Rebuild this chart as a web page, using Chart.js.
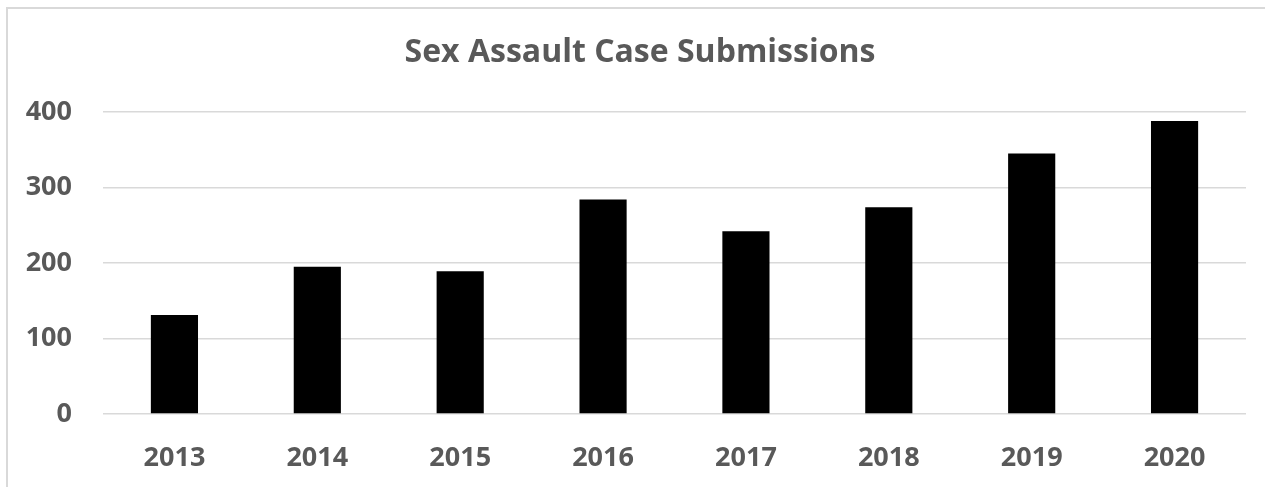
<!DOCTYPE html>
<html>
<head>
<meta charset="utf-8">
<script src="https://cdn.jsdelivr.net/npm/chart.js@4/dist/chart.umd.min.js"></script>
<style>
  html, body { margin: 0; padding: 0; background: #fff; overflow: hidden; }
  #wrap { position: relative; width: 1265px; height: 487px; }
  #frame {
    position: absolute; left: 6px; top: 7px; width: 1300px; height: 520px;
    border: 2px solid #d9d9d9; box-sizing: border-box;
  }
  canvas { position: absolute; left: 0; top: 0; }
</style>
</head>
<body>
<div id="wrap">
  <div id="frame"></div>
  <canvas id="chart" width="1265" height="487"></canvas>
</div>
<script>
const years = ['2013', '2014', '2015', '2016', '2017', '2018', '2019', '2020'];
const submissions = [131, 195, 189, 284, 242, 274, 345, 388];
const yTicks = [0, 100, 200, 300, 400];

const textColor = '#595959';
const fontFamily = '"Open Sans", "Liberation Sans", sans-serif';

new Chart(document.getElementById('chart'), {
    type: 'bar',
    data: {
        labels: years,
        datasets: [{
            label: 'Sex Assault Case Submissions',
            data: submissions,
            backgroundColor: '#000000',
            barPercentage: 0.33,
            categoryPercentage: 1.0
        }]
    },
    options: {
        responsive: false,
        animation: false,
        layout: {
            padding: { left: 15, right: 0, top: 34, bottom: 0 }
        },
        plugins: {
            legend: { display: false },
            tooltip: { enabled: false },
            title: {
                display: true,
                text: 'Sex Assault Case Submissions',
                color: textColor,
                font: { family: fontFamily, size: 32, weight: 'bold', lineHeight: 1.2 },
                padding: { top: 0, bottom: 39.6 }
            }
        },
        scales: {
            x: {
                grid: { display: false },
                border: { display: false },
                ticks: {
                    color: textColor,
                    font: { family: fontFamily, size: 27, weight: 'bold' },
                    padding: 20
                },
                afterFit: (scale) => { scale.height = 73; }
            },
            y: {
                min: yTicks[0],
                max: yTicks[yTicks.length - 1],
                afterBuildTicks: (scale) => {
                    scale.ticks = yTicks.map(v => ({ value: v }));
                },
                grid: { color: '#d9d9d9', lineWidth: 1.4, drawTicks: false },
                border: { display: false },
                ticks: {
                    color: textColor,
                    font: { family: fontFamily, size: 27, weight: 'bold' },
                    padding: 31
                },
                afterFit: (scale) => { scale.width = 88; }
            },
            // empty right-hand gutter so the title stays centred on the canvas
            gutter: {
                position: 'right',
                min: yTicks[0],
                max: yTicks[yTicks.length - 1],
                grid: { display: false },
                border: { display: false },
                ticks: { display: false },
                afterFit: (scale) => { scale.width = 19; }
            }
        }
    }
});
</script>
</body>
</html>
